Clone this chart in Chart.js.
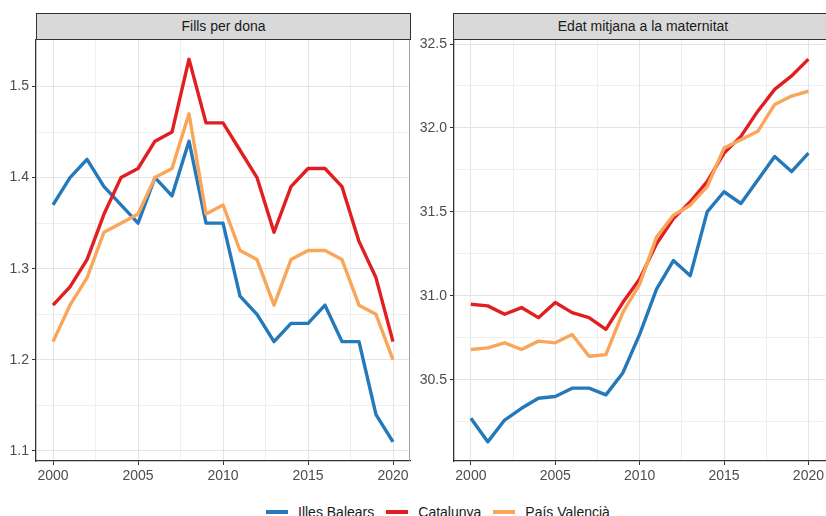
<!DOCTYPE html>
<html>
<head>
<meta charset="utf-8">
<script src="https://cdn.jsdelivr.net/npm/chart.js@4.4.1/dist/chart.umd.min.js"></script>
<style>
  body { margin: 0; width: 826px; height: 516px; overflow: hidden; background: #fff; font-family: "Liberation Sans", Arial, sans-serif; position: relative; }
  canvas { position: absolute; top: 0; }
  .strip { position: absolute; top: 13px; height: 27px; box-sizing: border-box; border: 1px solid #333; background: #d9d9d9; color: #1a1a1a; font-size: 14px; line-height: 25px; text-align: center; }
  #legend { position: absolute; left: 266px; top: 504px; display: flex; align-items: center; font-size: 14px; line-height: 16px; color: #1a1a1a; }
  #legend .sw { width: 22px; height: 4px; margin-right: 10px; }
  #legend .it { display: flex; align-items: center; margin-right: 12px; }
</style>
</head>
<body>
<canvas id="graficoFills" width="420" height="490" style="left:0"></canvas>
<canvas id="graficoEdat" width="414" height="490" style="left:413px"></canvas>
<div class="strip" style="left:36px; width:375px">Fills per dona</div>
<div class="strip" style="left:453px; width:380px">Edat mitjana a la maternitat</div>
<div id="legend"></div>
<script>
const years = [2000, 2001, 2002, 2003, 2004, 2005, 2006, 2007, 2008, 2009, 2010,
               2011, 2012, 2013, 2014, 2015, 2016, 2017, 2018, 2019, 2020];
const regions = ['Illes Balears', 'Catalunya', 'País Valencià'];
const colors = ['#2479bb', '#e21f20', '#f9a65a'];

// Fills per dona
const fillsBalears  = [1.37, 1.40, 1.42, 1.39, 1.37, 1.35, 1.40, 1.38, 1.44, 1.35, 1.35, 1.27, 1.25, 1.22, 1.24, 1.24, 1.26, 1.22, 1.22, 1.14, 1.11];
const fillsCatalunya = [1.26, 1.28, 1.31, 1.36, 1.40, 1.41, 1.44, 1.45, 1.53, 1.46, 1.46, 1.43, 1.40, 1.34, 1.39, 1.41, 1.41, 1.39, 1.33, 1.29, 1.22];
const fillsValencia = [1.22, 1.26, 1.29, 1.34, 1.35, 1.36, 1.40, 1.41, 1.47, 1.36, 1.37, 1.32, 1.31, 1.26, 1.31, 1.32, 1.32, 1.31, 1.26, 1.25, 1.20];

// Edat mitjana a la maternitat
const edatBalears  = [30.27, 30.13, 30.26, 30.33, 30.39, 30.40, 30.45, 30.45, 30.41, 30.54, 30.77, 31.04, 31.21, 31.12, 31.50, 31.62, 31.55, 31.69, 31.83, 31.74, 31.85];
const edatCatalunya = [30.95, 30.94, 30.89, 30.93, 30.87, 30.96, 30.90, 30.87, 30.80, 30.96, 31.10, 31.31, 31.46, 31.56, 31.68, 31.85, 31.95, 32.10, 32.23, 32.31, 32.41];
const edatValencia = [30.68, 30.69, 30.72, 30.68, 30.73, 30.72, 30.77, 30.64, 30.65, 30.90, 31.07, 31.35, 31.48, 31.54, 31.65, 31.88, 31.93, 31.98, 32.14, 32.19, 32.22];

const xTicks = [2000, 2005, 2010, 2015, 2020];
const xMinor = [2002.5, 2007.5, 2012.5, 2017.5];
const fillsTicks = [1.1, 1.2, 1.3, 1.4, 1.5];
const fillsMinor = [1.15, 1.25, 1.35, 1.45];
const edatTicks = [30.5, 31.0, 31.5, 32.0, 32.5];
const edatMinor = [30.25, 30.75, 31.25, 31.75, 32.25];
const fillsTickLabels = ['1.1', '1.2', '1.3', '1.4', '1.5'];
const edatTickLabels = ['30.5', '31.0', '31.5', '32.0', '32.5'];

const FONT = { family: '"Liberation Sans", Arial, sans-serif', size: 14 };

function escalaEixos(major, minor, labels, width, height) {
    return {
        afterBuildTicks: s => {
            s.ticks = major.concat(minor).sort((a, b) => a - b).map(v => ({ value: v }));
        },
        afterFit: s => {
            if (width) s.width = width;
            if (height) s.height = height;
        },
        ticks: {
            autoSkip: false,
            maxRotation: 0,
            padding: 3,
            color: '#4d4d4d',
            font: FONT,
            callback: value => {
                const i = major.findIndex(m => Math.abs(m - value) < 1e-6);
                return i >= 0 ? labels[i] : '';
            }
        },
        grid: {
            tickLength: 4,
            lineWidth: 1,
            color: ctx => major.some(m => Math.abs(m - ctx.tick.value) < 1e-6) ? '#e4e4e4' : '#efefef',
            tickColor: ctx => major.some(m => Math.abs(m - ctx.tick.value) < 1e-6) ? '#333333' : 'rgba(0,0,0,0)'
        },
        border: { color: '#333333', width: 1.3 }
    };
}

const vorDreta = {
    id: 'vorDreta',
    afterDraw(chart) {
        const a = chart.chartArea, c = chart.ctx;
        c.save();
        c.strokeStyle = '#a0a0a0';
        c.lineWidth = 1;
        c.beginPath();
        c.moveTo(a.right - 0.5, a.top);
        c.lineTo(a.right - 0.5, a.bottom);
        c.stroke();
        c.restore();
    }
};

function crearGrafic(id, series, yMin, yMax, yMajor, yMinor, yLabels, yWidth, padRight, plugins) {
    new Chart(document.getElementById(id), {
        type: 'line',
        data: {
            datasets: series.map((vals, k) => ({
                label: regions[k],
                data: years.map((y, i) => ({ x: y, y: vals[i] })),
                borderColor: colors[k],
                backgroundColor: colors[k],
                borderWidth: 3.4,
                pointRadius: 0,
                tension: 0,
                borderJoinStyle: 'round',
                order: 3 - k
            }))
        },
        options: {
            responsive: false,
            animation: false,
            layout: { padding: { top: 40, right: padRight, left: 0, bottom: 0 } },
            plugins: { legend: { display: false }, tooltip: { enabled: false } },
            scales: {
                x: Object.assign({ type: 'linear', min: 1999, max: 2021 }, escalaEixos(xTicks, xMinor, xTicks.map(String), null, 29)),
                y: Object.assign({ type: 'linear', min: yMin, max: yMax }, escalaEixos(yMajor, yMinor, yLabels, yWidth, null))
            }
        },
        plugins: plugins
    });
}

crearGrafic('graficoFills', [fillsBalears, fillsCatalunya, fillsValencia], 1.089, 1.551,
            fillsTicks, fillsMinor, fillsTickLabels, 36, 10, [vorDreta]);
crearGrafic('graficoEdat', [edatBalears, edatCatalunya, edatValencia], 30.016, 32.524,
            edatTicks, edatMinor, edatTickLabels, 41, 0, []);

const legend = document.getElementById('legend');
regions.forEach((r, k) => {
    const it = document.createElement('div');
    it.className = 'it';
    it.innerHTML = '<div class="sw" style="background:' + colors[k] + '"></div><span>' + r + '</span>';
    legend.appendChild(it);
});
</script>
</body>
</html>
